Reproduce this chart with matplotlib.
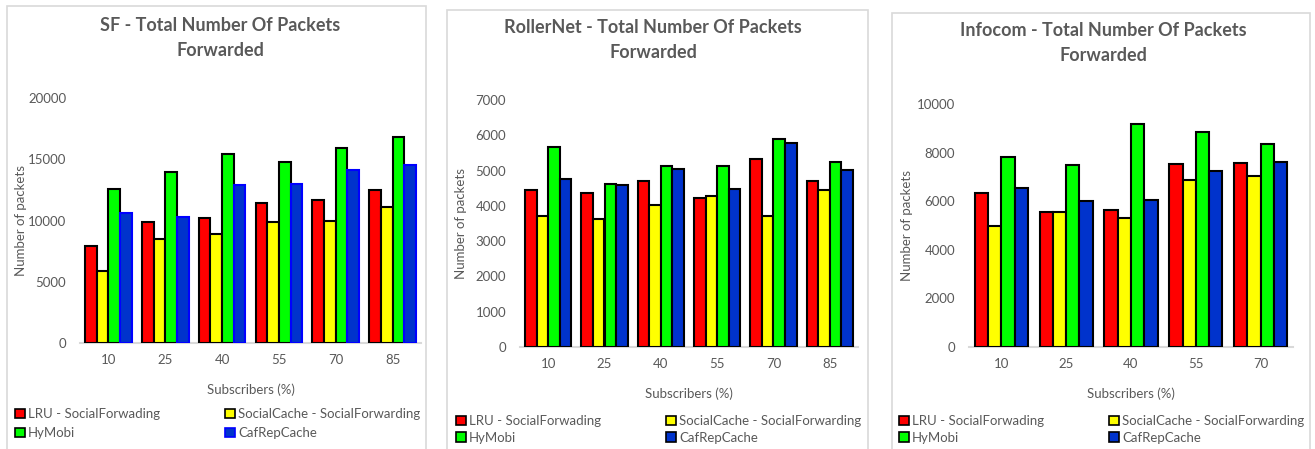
import matplotlib
matplotlib.use("Agg")
import matplotlib.pyplot as plt
from matplotlib.patches import Rectangle, Patch
import numpy as np

plt.rcParams['font.family'] = ['Lato', 'DejaVu Sans']

series_names = ["LRU - SocialForwading", "SocialCache - SocialForwarding", "HyMobi", "CafRepCache"]

sf_categories = ["10", "25", "40", "55", "70", "85"]
sf_lru = [7900, 9900, 10200, 11400, 11700, 12500]
sf_socialcache = [5900, 8500, 8900, 9900, 10000, 11100]
sf_hymobi = [12600, 14000, 15400, 14800, 15900, 16800]
sf_cafrep = [10600, 10300, 12900, 13000, 14100, 14500]
sf_yticks = [0, 5000, 10000, 15000, 20000]

rn_categories = ["10", "25", "40", "55", "70", "85"]
rn_lru = [4450, 4370, 4700, 4230, 5330, 4710]
rn_socialcache = [3720, 3630, 4030, 4270, 3720, 4460]
rn_hymobi = [5680, 4630, 5130, 5120, 5900, 5250]
rn_cafrep = [4770, 4600, 5040, 4480, 5770, 5020]
rn_yticks = [0, 1000, 2000, 3000, 4000, 5000, 6000, 7000]

ic_categories = ["10", "25", "40", "55", "70"]
ic_lru = [6340, 5560, 5620, 7540, 7590]
ic_socialcache = [4980, 5540, 5320, 6870, 7040]
ic_hymobi = [7800, 7480, 9180, 8830, 8350]
ic_cafrep = [6530, 6010, 6040, 7260, 7610]
ic_yticks = [0, 2000, 4000, 6000, 8000, 10000]

W, H = 1315, 449
fig = plt.figure(figsize=(W / 100, H / 100), dpi=100)

GRAY = "#595959"
BORDER = "#D9D9D9"
colors = ["#FF0000", "#FFFF00", "#00FF00", "#0033CC"]


def fx(x):
    return x / W


def fy(y):
    return 1 - y / H


def panel(box, axbox, title, title_xy, cats, data, yticks, blue_edge,
          ylabel_x, xlabel_y, leg_xy, colspace, labspace):
    # chart-area border
    x0, y0, x1, y1 = box
    fig.patches.append(Rectangle((fx(x0), fy(y1)), fx(x1 - x0), (y1 - y0) / H,
                                 transform=fig.transFigure, fill=False,
                                 edgecolor=BORDER, linewidth=1.2))
    l, t, r, b = axbox
    ax = fig.add_axes([fx(l), fy(b), fx(r - l), (b - t) / H])
    n = len(cats)
    x = np.arange(n)
    bw = 0.205
    offsets = (np.arange(4) - 1.5) * bw
    for i, vals in enumerate(data):
        ec = "black"
        if i == 3 and blue_edge:
            ec = "#0000FF"
        ax.bar(x + offsets[i], vals, width=bw, color=colors[i], edgecolor=ec,
               linewidth=1.5, zorder=3)
    ax.set_xlim(-0.5, n - 0.5)
    ax.set_ylim(0, yticks[-1])
    ax.set_yticks(yticks)
    ax.set_yticklabels([str(v) for v in yticks])
    ax.set_xticks(x)
    ax.set_xticklabels(cats)
    ax.tick_params(axis='both', length=0, labelsize=9.5, labelcolor=GRAY)
    ax.tick_params(axis='x', pad=8)
    ax.tick_params(axis='y', pad=10)
    for s in ["top", "right", "left"]:
        ax.spines[s].set_visible(False)
    ax.spines["bottom"].set_color(BORDER)
    ax.spines["bottom"].set_linewidth(1.5)
    ax.patch.set_alpha(0)
    fig.text(fx(title_xy[0]), fy(title_xy[1]), title, ha="center", va="center",
             fontsize=13, fontweight="bold", color=GRAY, linespacing=1.55)
    fig.text(fx(ylabel_x), fy((t + b) / 2), "Number of packets", rotation=90,
             ha="center", va="center", fontsize=9.5, color=GRAY)
    fig.text(fx((l + r) / 2), fy(xlabel_y), "Subscribers (%)", ha="center",
             va="center", fontsize=9.5, color=GRAY)
    handles = []
    order = [0, 2, 1, 3]
    for i in order:
        ec = "black"
        if i == 3 and blue_edge:
            ec = "#0000FF"
        handles.append(Patch(facecolor=colors[i], edgecolor=ec, linewidth=1.2))
    labels = [series_names[i] for i in order]
    fig.legend(handles, labels, loc="upper left",
               bbox_to_anchor=(fx(leg_xy[0]), fy(leg_xy[1])), ncol=2,
               frameon=False, fontsize=9.5, handlelength=0.75, handleheight=0.75,
               handletextpad=0.25, columnspacing=colspace, labelspacing=labspace,
               borderpad=0, borderaxespad=0, labelcolor=GRAY)
    return ax


panel((7, 6, 426, 460), (80, 98, 421, 343),
      "SF - Total Number Of Packets\nForwarded", (220, 38),
      sf_categories, [sf_lru, sf_socialcache, sf_hymobi, sf_cafrep], sf_yticks,
      True, 21, 390, (15, 408), 4.9, 0.55)

panel((447, 10, 868, 460), (520, 100, 858, 347),
      "RollerNet - Total Number Of Packets\nForwarded", (653, 40),
      rn_categories, [rn_lru, rn_socialcache, rn_hymobi, rn_cafrep], rn_yticks,
      False, 461, 394, (456, 415), 4.9, 0.35)

panel((892, 13, 1310, 460), (969, 104, 1293, 347),
      "Infocom - Total Number Of Packets\nForwarded", (1103, 43),
      ic_categories, [ic_lru, ic_socialcache, ic_hymobi, ic_cafrep], ic_yticks,
      False, 907, 394, (899, 415), 4.9, 0.35)

fig.savefig("out.png", dpi=100)
